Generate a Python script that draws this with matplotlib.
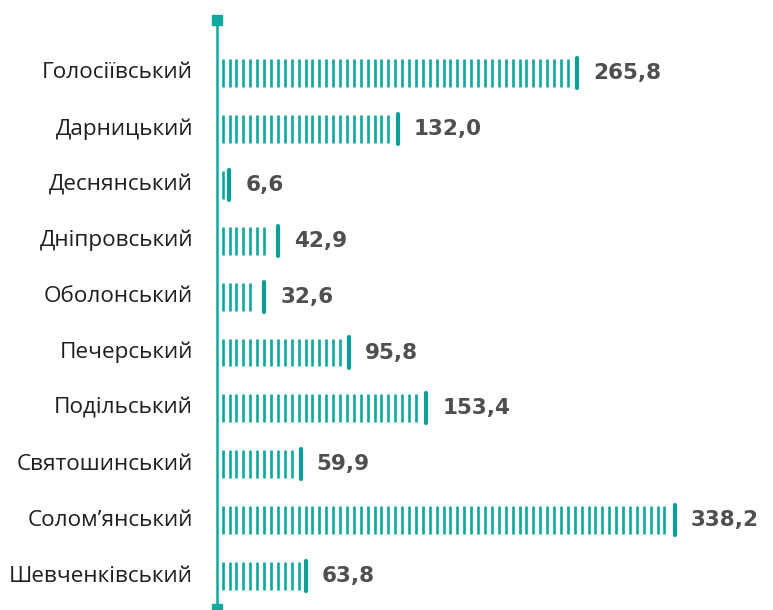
import numpy as np
import matplotlib.pyplot as plt

districts = ["Голосіївський", "Дарницький", "Деснянський", "Дніпровський", "Оболонський",
             "Печерський", "Подільський", "Святошинський", "Солом’янський", "Шевченківський"]
values = [265.8, 132.0, 6.6, 42.9, 32.6, 95.8, 153.4, 59.9, 338.2, 63.8]
labels = ["265,8", "132,0", "6,6", "42,9", "32,6", "95,8", "153,4", "59,9", "338,2", "63,8"]

TEAL = "#0fa89d"
W, H = 773, 610
PX = 1.343          # pixels per unit
X0 = 220.4          # pixel of zero
ROW0, ROWSTEP = 73, 55.9

fig = plt.figure(figsize=(W / 100, H / 100), dpi=100)
ax = fig.add_axes([0, 0, 1, 1])
ax.set_xlim(-X0 / PX, (W - X0) / PX)
ax.set_ylim((H - ROW0) / ROWSTEP, -ROW0 / ROWSTEP)
ax.axis("off")

# vertical axis line with square ends
ax.plot([-2.8, -2.8], [-0.95, 9.55], color=TEAL, lw=1.8, zorder=2)
ax.plot([-2.4, -2.4], [-0.95, 9.58], ls="none", marker="s", ms=7.8, color=TEAL, zorder=3)

for i, (v, lab) in enumerate(zip(values, labels)):
    # striped bar body + solid end cap
    stripes = np.arange(1.7, max(v - 5.5, 1.8), 5.14)
    ax.vlines(stripes, i - 0.25, i + 0.25, color=TEAL, lw=1.9)
    ax.vlines([v], i - 0.27, i + 0.27, color="#0a9f95", lw=3.0, capstyle="round")
    ax.annotate(lab, (v, i), xytext=(11.5, 0), textcoords="offset points",
                ha="left", va="center", fontsize=15.5, fontweight="bold",
                color="#4f4f4f", family="DejaVu Sans")
    ax.annotate(districts[i], (-2.8, i), xytext=(-17, 0), textcoords="offset points",
                ha="right", va="center", fontsize=16.2, color="#1e1e1e", family="Open Sans")

fig.savefig("out.png", dpi=100, facecolor="white")
